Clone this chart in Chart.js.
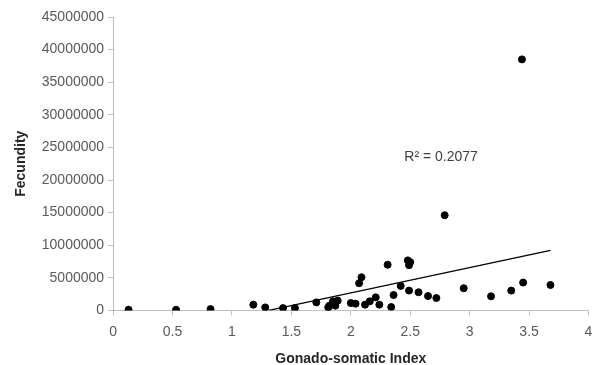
<!DOCTYPE html>
<html>
<head>
<meta charset="utf-8">
<script src="https://cdn.jsdelivr.net/npm/chart.js@4/dist/chart.umd.min.js"></script>
<style>
  html, body { margin: 0; padding: 0; background: #fff; }
  #chart { display: block; }
</style>
</head>
<body>
<canvas id="chart" width="593" height="365"></canvas>
<script>
// gonado-somatic index vs fecundity
const gsi = [
  0.13, 0.53, 0.82, 1.18, 1.28, 1.43, 1.53, 1.71, 1.81, 1.85,
  1.89, 1.82, 1.87, 2.0, 2.04, 2.12, 2.16, 2.21, 2.24, 2.34,
  2.36, 2.42, 2.49, 2.57, 2.65, 2.72, 2.09, 2.07, 2.31, 2.48,
  2.5, 2.49, 2.79, 2.95, 3.18, 3.35, 3.45, 3.68, 3.44
];
const fecundity = [
  100000, 100000, 200000, 880000, 460000, 350000, 350000, 1230000, 460000, 1390000,
  1500000, 730000, 730000, 1130000, 1030000, 880000, 1390000, 2000000, 880000, 510000,
  2360000, 3750000, 3040000, 2780000, 2200000, 1900000, 5090000, 4170000, 7000000, 7670000,
  7400000, 6940000, 14600000, 3400000, 2160000, 3040000, 4270000, 3900000, 38500000
];

// linear trendline (clipped at y = 0 like the original)
const trendX = [1.31, 3.68];
const trendY = [0, 9200000];
const rSquared = "R² = 0.2077";

const xTicks = [0, 0.5, 1, 1.5, 2, 2.5, 3, 3.5, 4];
const yMax = 45000000;
const yStep = 5000000;

const points = gsi.map((x, i) => ({ x: x, y: fecundity[i] }));
const trend = trendX.map((x, i) => ({ x: x, y: trendY[i] }));

const fontFamily = "'Liberation Sans', Arial, sans-serif";
const axisGrey = "#bfbfbf";

const r2Label = {
  id: "r2Label",
  afterDatasetsDraw(chart) {
    const { ctx, scales } = chart;
    ctx.save();
    ctx.font = "14px " + fontFamily;
    ctx.fillStyle = "#404040";
    ctx.textAlign = "center";
    ctx.textBaseline = "middle";
    ctx.fillText(rSquared, scales.x.getPixelForValue(2.76), scales.y.getPixelForValue(23500000));
    ctx.restore();
  }
};

new Chart(document.getElementById("chart"), {
  type: "scatter",
  data: {
    datasets: [
      {
        label: "Fecundity",
        data: points,
        backgroundColor: "#000",
        borderColor: "#000",
        pointRadius: 3.5,
        pointHoverRadius: 3.5
      },
      {
        type: "line",
        label: "Linear",
        data: trend,
        borderColor: "#000",
        borderWidth: 1.2,
        pointRadius: 0,
        fill: false
      }
    ]
  },
  options: {
    responsive: false,
    animation: false,
    layout: { padding: { left: 13, top: 17, right: -1, bottom: -3 } },
    plugins: {
      legend: { display: false },
      tooltip: { enabled: false }
    },
    scales: {
      x: {
        type: "linear",
        min: 0,
        max: 4,
        afterBuildTicks: (scale) => { scale.ticks = xTicks.map(v => ({ value: v })); },
        afterFit: (scale) => { scale.paddingRight = 0; },
        ticks: {
          color: "#595959",
          font: { family: fontFamily, size: 14 },
          padding: 8,
          maxRotation: 0,
          callback: (v) => String(v)
        },
        grid: { drawOnChartArea: false, drawTicks: true, tickLength: 5, color: axisGrey },
        border: { color: axisGrey },
        title: {
          display: true,
          text: "Gonado-somatic Index",
          color: "#262626",
          font: { family: fontFamily, size: 14, weight: "bold" },
          padding: { top: 3, bottom: 0 }
        }
      },
      y: {
        min: 0,
        max: yMax,
        ticks: {
          stepSize: yStep,
          color: "#595959",
          font: { family: fontFamily, size: 14 },
          padding: 4,
          callback: (v) => String(v)
        },
        grid: { drawOnChartArea: false, drawTicks: true, tickLength: 5, color: axisGrey },
        border: { color: axisGrey },
        title: {
          display: true,
          text: "Fecundity",
          color: "#262626",
          font: { family: fontFamily, size: 14, weight: "bold" },
          padding: { top: 0, bottom: 8 }
        }
      }
    }
  },
  plugins: [r2Label]
});
</script>
</body>
</html>
